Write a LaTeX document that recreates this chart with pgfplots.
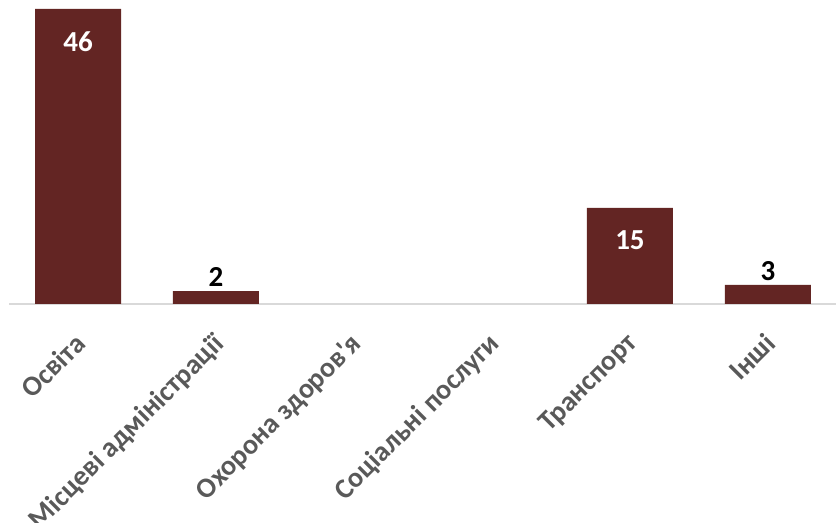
\documentclass[border=0pt]{standalone}
\usepackage{pgfplots}
\pgfplotsset{compat=1.18}
\usepackage{fontspec}
\setmainfont{Carlito}[Ligatures=TeXOff]
\definecolor{barred}{HTML}{632523}
\definecolor{lblgray}{HTML}{595959}
\definecolor{axgray}{HTML}{D9D9D9}
\begin{document}
\begin{tikzpicture}
\useasboundingbox (0,0) rectangle (418pt,261.5pt);
\begin{axis}[
  at={(4.5pt,109.5pt)}, anchor=south west,
  width=414pt, height=152pt, scale only axis,
  xmin=-0.5, xmax=5.5, ymin=0, ymax=47.4,
  hide y axis,
  axis x line*=bottom,
  x axis line style={draw=axgray, line width=0.75pt, -},
  xtick={0,1,2,3,4,5},
  xticklabels={Освіта, Місцеві адміністрації, Охорона здоров'я, Соціальні послуги, Транспорт, Інші},
  major tick length=0pt,
  /pgf/number format/assume math mode=true,
  xticklabel style={xshift=-2.5pt, yshift=-13.5pt, rotate=45, anchor=north east, inner sep=0pt,
    font=\bfseries\fontsize{14.1}{17}\selectfont, text=lblgray},
  ybar, bar width=43pt, bar shift=0pt,
  clip=false,
]
\addplot[fill=barred, draw=none,
  nodes near coords,
  nodes near coords style={anchor=north, inner sep=0pt, yshift=-11pt, text=white,
    font=\bfseries\fontsize{14.5}{17}\selectfont}]
  coordinates {(0,46) (4,15)};
\addplot[fill=barred, draw=none,
  nodes near coords,
  nodes near coords style={anchor=south, inner sep=0pt, yshift=2pt, text=black,
    font=\bfseries\fontsize{14.5}{17}\selectfont}]
  coordinates {(1,2) (5,3)};
\end{axis}
\end{tikzpicture}
\end{document}
